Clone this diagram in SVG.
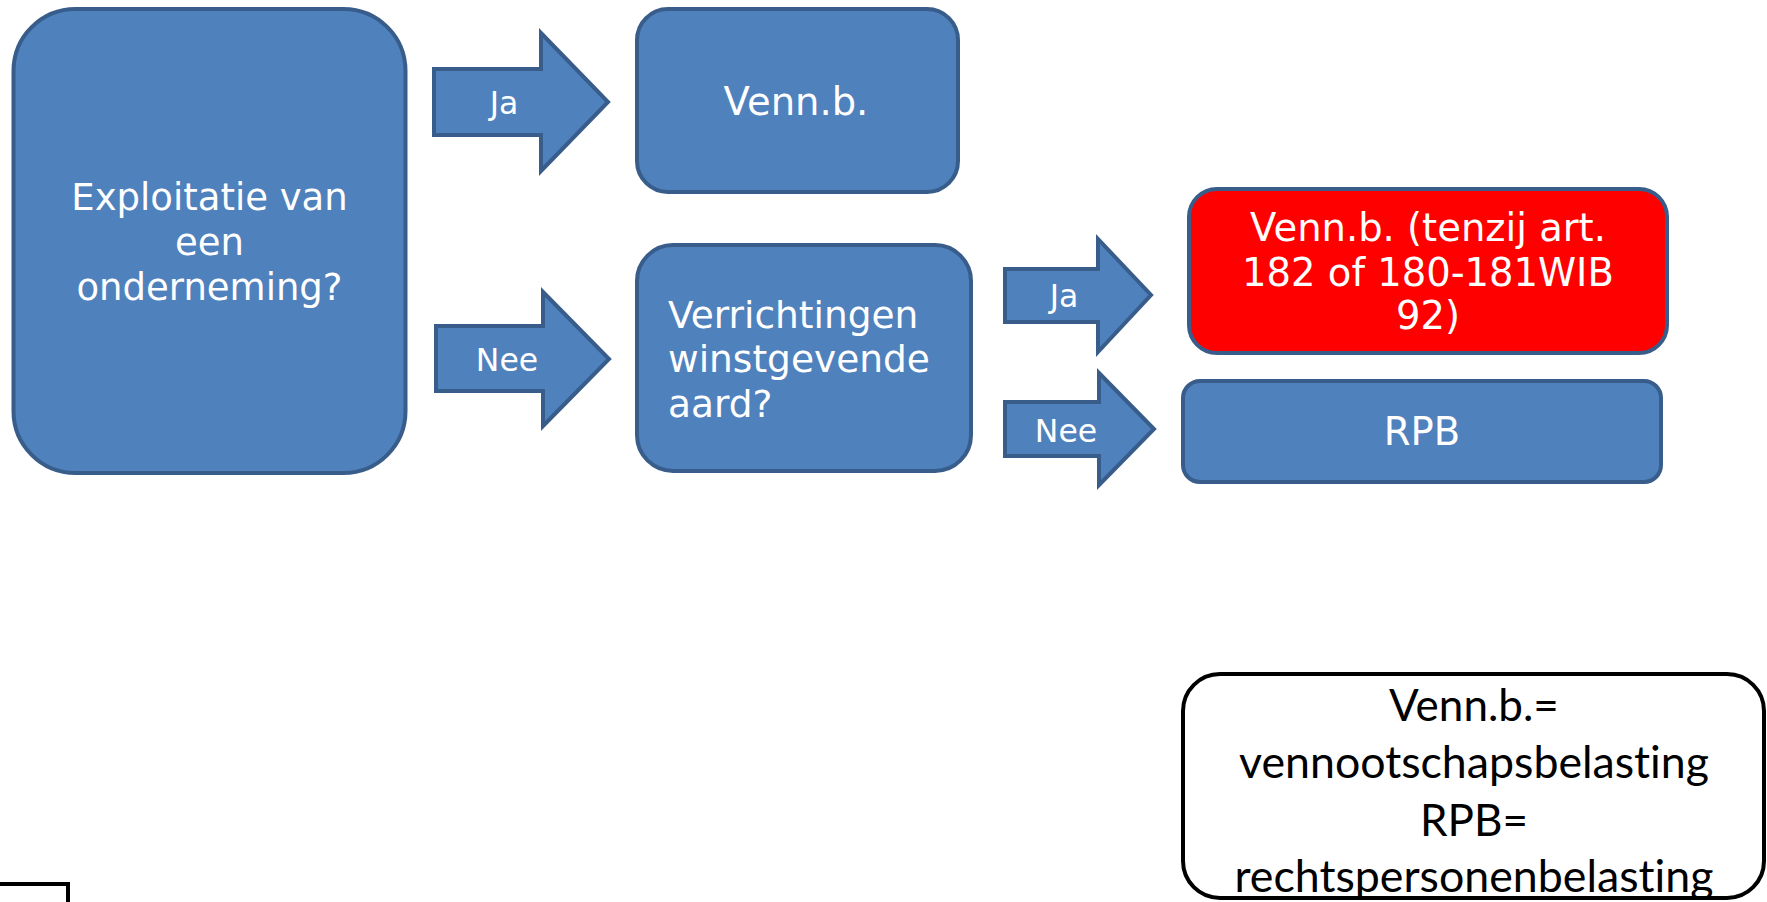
<svg xmlns="http://www.w3.org/2000/svg" width="1767" height="902" viewBox="0 0 1767 902">
<style>
.box{fill:#4F81BD;stroke:#385D8A;stroke-width:4}
.red{fill:#FF0000;stroke:#385D8A;stroke-width:4}
.arrow{fill:#4F81BD;stroke:#385D8A;stroke-width:4;stroke-linejoin:miter}
.t{font-family:"DejaVu Sans",Verdana,sans-serif;font-size:37px;fill:#FFFFFF}
.tb{font-size:38.5px}
.c{text-anchor:middle}
.lbl{font-family:"DejaVu Sans",Verdana,sans-serif;font-size:31.5px;fill:#FFFFFF;text-anchor:middle}
.leg{fill:#FFFFFF;stroke:#000000;stroke-width:4}
.lt{font-family:Lato,"Liberation Sans",sans-serif;font-size:44px;fill:#000000;text-anchor:middle;font-variant-ligatures:none}
</style>
<rect width="1767" height="902" fill="#FFFFFF"/>
<g id="connectors">
<g id="arrow-ja-1">
<path class="arrow" d="M434,69 H541 V33 L608,102 L541,171 V135 H434 Z"/>
<text class="lbl" x="504" y="114">Ja</text>
</g>
<g id="arrow-nee-1">
<path class="arrow" d="M436,326 H543 V292 L609,359 L543,426 V391 H436 Z"/>
<text class="lbl" x="507" y="371">Nee</text>
</g>
<g id="arrow-ja-2">
<path class="arrow" d="M1005,269 H1098 V239 L1151,295 L1098,352 V322 H1005 Z"/>
<text class="lbl" x="1064" y="307">Ja</text>
</g>
<g id="arrow-nee-2">
<path class="arrow" d="M1005,402 H1099 V373 L1154,429 L1099,485 V456 H1005 Z"/>
<text class="lbl" x="1066" y="442">Nee</text>
</g>
</g>
<g id="node-exploitatie">
<rect class="box" x="13.5" y="9" width="392" height="464" rx="62"/>
<text class="t c" x="209.5" y="210">Exploitatie van</text>
<text class="t c" x="209.5" y="255">een</text>
<text class="t c" x="209.5" y="300">onderneming?</text>
</g>
<g id="node-vennb">
<rect class="box" x="637" y="9" width="321" height="183" rx="31"/>
<text class="t tb c" x="796" y="115">Venn.b.</text>
</g>
<g id="node-verrichtingen">
<rect class="box" x="637" y="245" width="334" height="226" rx="36"/>
<text class="t" x="668" y="328" style="font-size:37.5px">Verrichtingen</text>
<text class="t" x="668" y="372" style="font-size:37.5px">winstgevende</text>
<text class="t" x="668" y="417" style="font-size:37.5px">aard?</text>
</g>
<g id="node-vennb-tenzij">
<rect class="red" x="1189" y="189" width="478" height="164" rx="28"/>
<text class="t tb c" x="1428" y="241">Venn.b. (tenzij art.</text>
<text class="t tb c" x="1428" y="286">182 of 180-181WIB</text>
<text class="t tb c" x="1428" y="329">92)</text>
</g>
<g id="node-rpb">
<rect class="box" x="1183" y="381" width="478" height="101" rx="17"/>
<text class="t tb c" x="1422" y="445">RPB</text>
</g>
<g id="node-legend">
<rect class="leg" x="1183" y="674" width="581" height="224" rx="37"/>
<text class="lt" x="1474" y="721">Venn.b.=</text>
<text class="lt" x="1474" y="778" textLength="470" lengthAdjust="spacingAndGlyphs">vennootschapsbelasting</text>
<text class="lt" x="1474" y="836">RPB=</text>
<text class="lt" x="1474" y="892" textLength="479" lengthAdjust="spacingAndGlyphs">rechtspersonenbelasting</text>
</g>
<g id="corner-fragment">
<path d="M0,884 H68 V902" fill="none" stroke="#000000" stroke-width="4"/>
</g>
</svg>
